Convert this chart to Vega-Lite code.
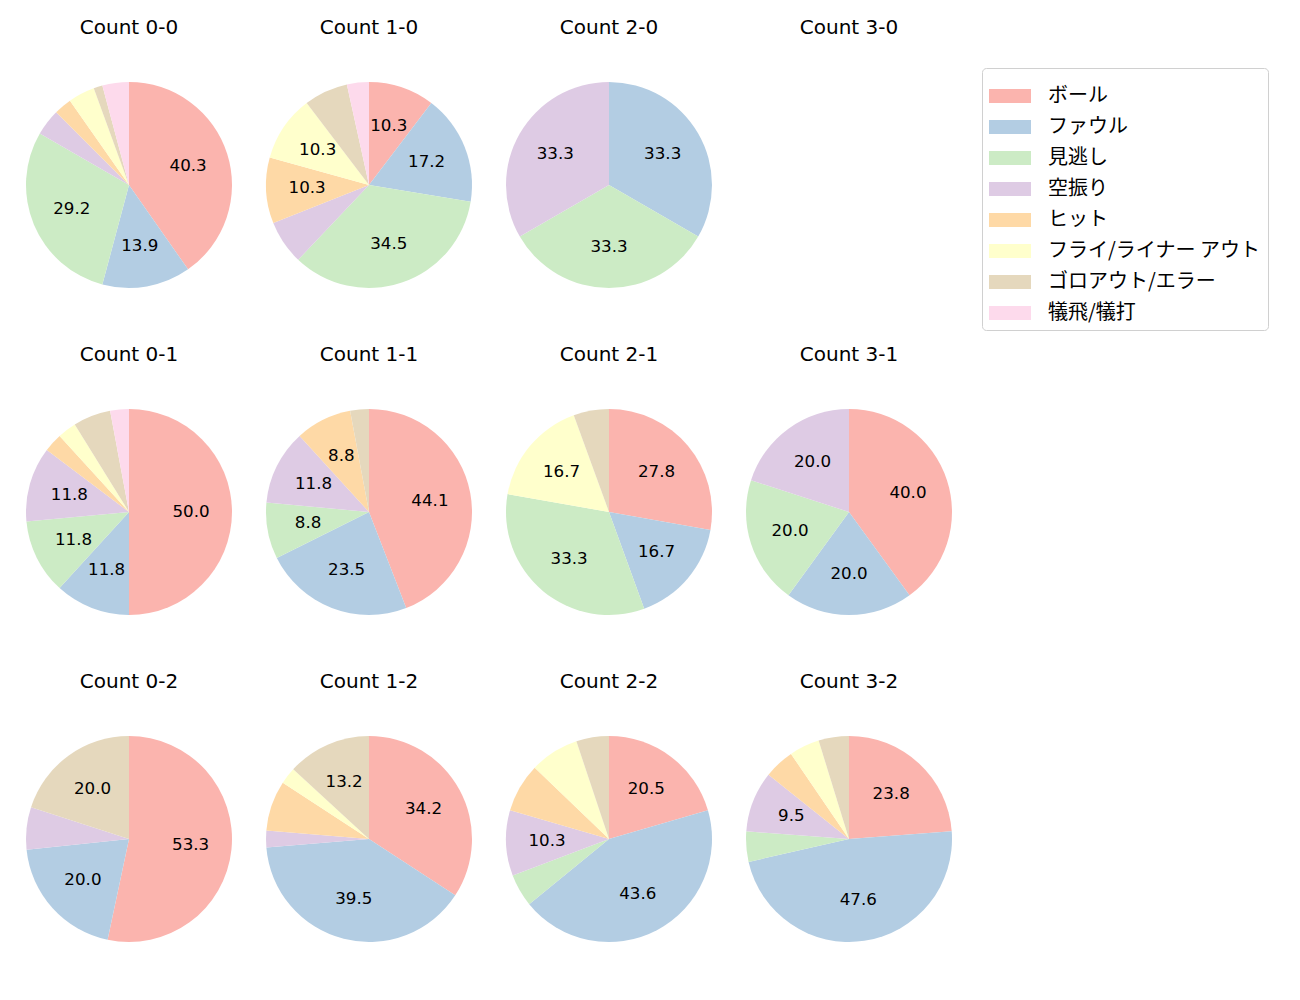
{
  "$schema": "https://vega.github.io/schema/vega-lite/v6.json",
  "padding": {"left": 26, "top": 18, "right": 5, "bottom": 5},
  "config": {
    "font": "DejaVu Sans",
    "view": {"stroke": null}
  },
  "data": {
    "values": [
      {"count": "Count 0-0", "result": "ボール", "n": 29, "label": "40.3"},
      {"count": "Count 0-0", "result": "ファウル", "n": 10, "label": "13.9"},
      {"count": "Count 0-0", "result": "見逃し", "n": 21, "label": "29.2"},
      {"count": "Count 0-0", "result": "空振り", "n": 3, "label": ""},
      {"count": "Count 0-0", "result": "ヒット", "n": 2, "label": ""},
      {"count": "Count 0-0", "result": "フライ/ライナー アウト", "n": 3, "label": ""},
      {"count": "Count 0-0", "result": "ゴロアウト/エラー", "n": 1, "label": ""},
      {"count": "Count 0-0", "result": "犠飛/犠打", "n": 3, "label": ""},

      {"count": "Count 1-0", "result": "ボール", "n": 3, "label": "10.3"},
      {"count": "Count 1-0", "result": "ファウル", "n": 5, "label": "17.2"},
      {"count": "Count 1-0", "result": "見逃し", "n": 10, "label": "34.5"},
      {"count": "Count 1-0", "result": "空振り", "n": 2, "label": ""},
      {"count": "Count 1-0", "result": "ヒット", "n": 3, "label": "10.3"},
      {"count": "Count 1-0", "result": "フライ/ライナー アウト", "n": 3, "label": "10.3"},
      {"count": "Count 1-0", "result": "ゴロアウト/エラー", "n": 2, "label": ""},
      {"count": "Count 1-0", "result": "犠飛/犠打", "n": 1, "label": ""},

      {"count": "Count 2-0", "result": "ファウル", "n": 1, "label": "33.3"},
      {"count": "Count 2-0", "result": "見逃し", "n": 1, "label": "33.3"},
      {"count": "Count 2-0", "result": "空振り", "n": 1, "label": "33.3"},

      {"count": "Count 3-0", "result": "ボール", "n": 0, "label": ""},

      {"count": "Count 0-1", "result": "ボール", "n": 17, "label": "50.0"},
      {"count": "Count 0-1", "result": "ファウル", "n": 4, "label": "11.8"},
      {"count": "Count 0-1", "result": "見逃し", "n": 4, "label": "11.8"},
      {"count": "Count 0-1", "result": "空振り", "n": 4, "label": "11.8"},
      {"count": "Count 0-1", "result": "ヒット", "n": 1, "label": ""},
      {"count": "Count 0-1", "result": "フライ/ライナー アウト", "n": 1, "label": ""},
      {"count": "Count 0-1", "result": "ゴロアウト/エラー", "n": 2, "label": ""},
      {"count": "Count 0-1", "result": "犠飛/犠打", "n": 1, "label": ""},

      {"count": "Count 1-1", "result": "ボール", "n": 15, "label": "44.1"},
      {"count": "Count 1-1", "result": "ファウル", "n": 8, "label": "23.5"},
      {"count": "Count 1-1", "result": "見逃し", "n": 3, "label": "8.8"},
      {"count": "Count 1-1", "result": "空振り", "n": 4, "label": "11.8"},
      {"count": "Count 1-1", "result": "ヒット", "n": 3, "label": "8.8"},
      {"count": "Count 1-1", "result": "ゴロアウト/エラー", "n": 1, "label": ""},

      {"count": "Count 2-1", "result": "ボール", "n": 5, "label": "27.8"},
      {"count": "Count 2-1", "result": "ファウル", "n": 3, "label": "16.7"},
      {"count": "Count 2-1", "result": "見逃し", "n": 6, "label": "33.3"},
      {"count": "Count 2-1", "result": "フライ/ライナー アウト", "n": 3, "label": "16.7"},
      {"count": "Count 2-1", "result": "ゴロアウト/エラー", "n": 1, "label": ""},

      {"count": "Count 3-1", "result": "ボール", "n": 2, "label": "40.0"},
      {"count": "Count 3-1", "result": "ファウル", "n": 1, "label": "20.0"},
      {"count": "Count 3-1", "result": "見逃し", "n": 1, "label": "20.0"},
      {"count": "Count 3-1", "result": "空振り", "n": 1, "label": "20.0"},

      {"count": "Count 0-2", "result": "ボール", "n": 8, "label": "53.3"},
      {"count": "Count 0-2", "result": "ファウル", "n": 3, "label": "20.0"},
      {"count": "Count 0-2", "result": "空振り", "n": 1, "label": ""},
      {"count": "Count 0-2", "result": "ゴロアウト/エラー", "n": 3, "label": "20.0"},

      {"count": "Count 1-2", "result": "ボール", "n": 13, "label": "34.2"},
      {"count": "Count 1-2", "result": "ファウル", "n": 15, "label": "39.5"},
      {"count": "Count 1-2", "result": "空振り", "n": 1, "label": ""},
      {"count": "Count 1-2", "result": "ヒット", "n": 3, "label": ""},
      {"count": "Count 1-2", "result": "フライ/ライナー アウト", "n": 1, "label": ""},
      {"count": "Count 1-2", "result": "ゴロアウト/エラー", "n": 5, "label": "13.2"},

      {"count": "Count 2-2", "result": "ボール", "n": 8, "label": "20.5"},
      {"count": "Count 2-2", "result": "ファウル", "n": 17, "label": "43.6"},
      {"count": "Count 2-2", "result": "見逃し", "n": 2, "label": ""},
      {"count": "Count 2-2", "result": "空振り", "n": 4, "label": "10.3"},
      {"count": "Count 2-2", "result": "ヒット", "n": 3, "label": ""},
      {"count": "Count 2-2", "result": "フライ/ライナー アウト", "n": 3, "label": ""},
      {"count": "Count 2-2", "result": "ゴロアウト/エラー", "n": 2, "label": ""},

      {"count": "Count 3-2", "result": "ボール", "n": 5, "label": "23.8"},
      {"count": "Count 3-2", "result": "ファウル", "n": 10, "label": "47.6"},
      {"count": "Count 3-2", "result": "見逃し", "n": 1, "label": ""},
      {"count": "Count 3-2", "result": "空振り", "n": 2, "label": "9.5"},
      {"count": "Count 3-2", "result": "ヒット", "n": 1, "label": ""},
      {"count": "Count 3-2", "result": "フライ/ライナー アウト", "n": 1, "label": ""},
      {"count": "Count 3-2", "result": "ゴロアウト/エラー", "n": 1, "label": ""}
    ]
  },
  "transform": [
    {"calculate": "indexof(['ボール','ファウル','見逃し','空振り','ヒット','フライ/ライナー アウト','ゴロアウト/エラー','犠飛/犠打'], datum.result)", "as": "k"}
  ],
  "facet": {
    "field": "count",
    "type": "nominal",
    "sort": ["Count 0-0", "Count 1-0", "Count 2-0", "Count 3-0", "Count 0-1", "Count 1-1", "Count 2-1", "Count 3-1", "Count 0-2", "Count 1-2", "Count 2-2", "Count 3-2"],
    "header": {"title": null, "labelFontSize": 20, "labelPadding": 44, "labelColor": "#000", "labelFont": "DejaVu Sans"}
  },
  "columns": 4,
  "spacing": {"column": 34, "row": 57},
  "resolve": {"scale": {"theta": "independent"}},
  "spec": {
    "width": 206,
    "height": 206,
    "encoding": {
      "theta": {"field": "n", "type": "quantitative", "stack": true},
      "order": {"field": "k", "type": "quantitative"}
    },
    "layer": [
      {
        "mark": {"type": "arc", "outerRadius": 103},
        "encoding": {
          "color": {
            "field": "result",
            "type": "nominal",
            "scale": {
              "domain": ["ボール", "ファウル", "見逃し", "空振り", "ヒット", "フライ/ライナー アウト", "ゴロアウト/エラー", "犠飛/犠打"],
              "range": ["#fbb4ae", "#b3cde3", "#ccebc5", "#decbe4", "#fed9a6", "#ffffcc", "#e5d8bd", "#fddaec"]
            },
            "legend": {
              "title": null,
              "orient": "none",
              "legendX": 956,
              "legendY": -14,
              "symbolType": "M-1,-0.3333H1V0.3333H-1Z",
              "symbolSize": 1764,
              "symbolStrokeWidth": 0,
              "symbolOpacity": 1,
              "labelFont": "Noto Sans CJK JP",
              "labelFontSize": 20,
              "labelColor": "#000",
              "labelOffset": 17,
              "labelLimit": 400,
              "rowPadding": -0.5,
              "padding": 7,
              "strokeColor": "#d0d0d0",
              "cornerRadius": 4
            }
          }
        }
      },
      {
        "mark": {"type": "text", "radius": 62, "fontSize": 16.7, "color": "#000", "font": "DejaVu Sans"},
        "encoding": {"text": {"field": "label", "type": "nominal"}}
      }
    ]
  }
}
